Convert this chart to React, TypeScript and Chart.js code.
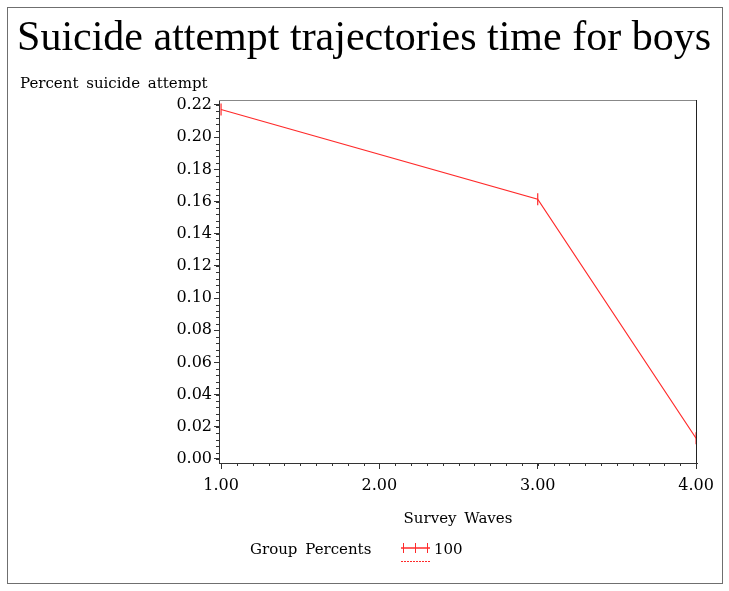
import React, { useEffect, useRef } from "react";
import { Chart, registerables } from "chart.js";

Chart.register(...registerables);

const titleText = "Suicide attempt trajectories time for boys";
const yAxisTitle = "Percent suicide attempt";
const xAxisTitle = "Survey Waves";
const legendTitle = "Group Percents";
const seriesLabel = "100";

const waves = [1, 3, 4];
const attemptRate = [0.2172, 0.1614, 0.0129];
const xTickValues = [1, 2, 3, 4];
const yTickValues = [0, 0.02, 0.04, 0.06, 0.08, 0.1, 0.12, 0.14, 0.16, 0.18, 0.2, 0.22];
const xMinorStep = 0.1;
const yMinorStep = 0.004;

const RED = "#ff2a2a";
const TITLE_FONT = "'Liberation Serif', serif";
const SERIF = "'DejaVu Serif', serif";

const decorPlugin = {
  id: "decor",
  afterDraw(chart: any) {
    const ctx = chart.ctx;
    const { left, right, top, bottom } = chart.chartArea;
    const xs = chart.scales.x;
    const ys = chart.scales.y;
    ctx.save();
    // outer frame
    ctx.strokeStyle = "#6f6f6f";
    ctx.lineWidth = 1;
    ctx.strokeRect(7.5, 7.5, 715, 576);
    // plot frame top / right
    ctx.beginPath();
    ctx.strokeStyle = "#888";
    ctx.moveTo(left, top + 0.5);
    ctx.lineTo(right, top + 0.5);
    ctx.stroke();
    ctx.beginPath();
    ctx.strokeStyle = "#222";
    ctx.moveTo(right - 0.5, top);
    ctx.lineTo(right - 0.5, bottom);
    ctx.stroke();
    // minor ticks
    ctx.strokeStyle = "#333";
    ctx.beginPath();
    const x0 = Math.ceil(xs.min / xMinorStep) * xMinorStep;
    for (let v = x0; v <= xs.max + 1e-9; v += xMinorStep) {
      const px = Math.round(xs.getPixelForValue(v)) + 0.5;
      ctx.moveTo(px, bottom);
      ctx.lineTo(px, bottom + 3);
    }
    const y0 = Math.ceil(ys.min / yMinorStep) * yMinorStep;
    for (let v = y0; v <= ys.max + 1e-9; v += yMinorStep) {
      const py = Math.round(ys.getPixelForValue(v)) + 0.5;
      ctx.moveTo(left, py);
      ctx.lineTo(left - 3, py);
    }
    ctx.stroke();
    // title
    ctx.fillStyle = "#000";
    ctx.font = `42px ${TITLE_FONT}`;
    ctx.textAlign = "center";
    ctx.textBaseline = "alphabetic";
    ctx.fillText(titleText, 364, 50);
    // y axis title
    ctx.font = `15px ${SERIF}`;
    ctx.textAlign = "left";
    (ctx as any).wordSpacing = "3px";
    ctx.fillText(yAxisTitle, 20, 88);
    // x axis title
    ctx.textAlign = "center";
    ctx.fillText(xAxisTitle, (left + right) / 2, 523);
    // legend
    ctx.textAlign = "left";
    ctx.fillText(legendTitle, 250, 554);
    ctx.fillText(seriesLabel, 434, 554);
    ctx.strokeStyle = RED;
    ctx.lineWidth = 1.5;
    ctx.beginPath();
    ctx.moveTo(401, 548);
    ctx.lineTo(430, 548);
    ctx.stroke();
    ctx.lineWidth = 1;
    ctx.beginPath();
    [403, 415, 427].forEach((mx) => {
      ctx.moveTo(mx + 0.5, 543);
      ctx.lineTo(mx + 0.5, 553);
    });
    ctx.stroke();
    ctx.setLineDash([2, 1]);
    ctx.beginPath();
    ctx.moveTo(401, 561.5);
    ctx.lineTo(430, 561.5);
    ctx.stroke();
    ctx.setLineDash([]);
    ctx.restore();
  },
};

export default function App() {
  const ref = useRef<HTMLCanvasElement | null>(null);
  useEffect(() => {
    if (!ref.current) return;
    const chart = new Chart(ref.current, {
      type: "line",
      data: {
        datasets: [
          {
            label: seriesLabel,
            data: waves.map((w, i) => ({ x: w, y: attemptRate[i] })),
            borderColor: RED,
            backgroundColor: RED,
            borderWidth: 1.2,
            pointStyle: "line",
            pointRotation: 90,
            pointRadius: 6,
            pointBorderWidth: 1.2,
            tension: 0,
          },
        ],
      },
      plugins: [decorPlugin],
      options: {
        animation: false,
        responsive: false,
        layout: { padding: { left: 0, right: 32, top: 100, bottom: 0 } },
        plugins: { legend: { display: false }, tooltip: { enabled: false } },
        scales: {
          x: {
            type: "linear",
            min: 0.987,
            max: 4.006,
            afterBuildTicks: (s: any) => {
              s.ticks = xTickValues.map((v) => ({ value: v }));
            },
            afterFit: (s: any) => {
              s.height = 128;
            },
            ticks: {
              autoSkip: false,
              maxRotation: 0,
              padding: 7,
              color: "#000",
              font: { family: SERIF, size: 16 },
              callback: (v: any) => Number(v).toFixed(2),
            },
            grid: { drawOnChartArea: false, tickLength: 6, tickColor: "#333", color: "#333" },
            border: { display: true, color: "#333" },
          },
          y: {
            type: "linear",
            min: -0.0025,
            max: 0.2231,
            afterBuildTicks: (s: any) => {
              s.ticks = yTickValues.map((v) => ({ value: v }));
            },
            afterFit: (s: any) => {
              s.width = 219;
            },
            ticks: {
              autoSkip: false,
              padding: 2,
              color: "#000",
              font: { family: SERIF, size: 16 },
              callback: (v: any) => Number(v).toFixed(2),
            },
            grid: { drawOnChartArea: false, tickLength: 5, tickColor: "#333", color: "#333" },
            border: { display: true, color: "#333" },
          },
        },
      },
    });
    return () => chart.destroy();
  }, []);
  return (
    <div style={{ position: "absolute", left: 0, top: 0, width: 729, height: 591, background: "#fff" }}>
      <canvas ref={ref} width={729} height={591} style={{ width: 729, height: 591 }} />
    </div>
  );
}
